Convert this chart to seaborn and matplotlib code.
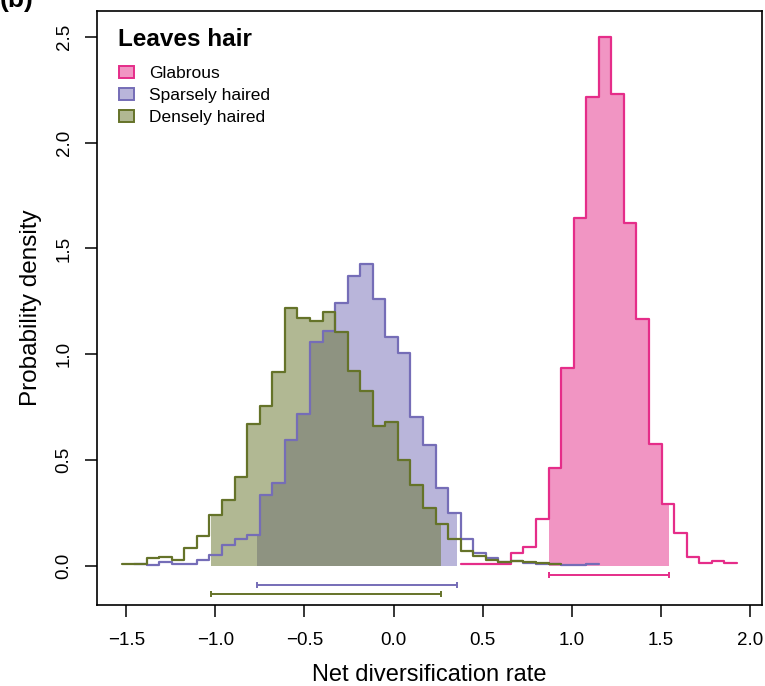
import numpy as np
import pandas as pd
import matplotlib
matplotlib.use("Agg")
import matplotlib.pyplot as plt
import seaborn as sns
from matplotlib.patches import Patch

# ---------------- data ----------------
# common histogram break points (49 bins)
edges = np.linspace(-1.527, 1.928, 50)

groups = ["Glabrous", "Sparsely haired", "Densely haired"]
line_colors = ["#E52D89", "#756DB7", "#657329"]

# densities per bin (first non-empty bin index + values)
glabrous_start = 27
glabrous = [0.008, 0.006, 0.010, 0.008, 0.060, 0.090, 0.219, 0.464, 0.933,
            1.643, 2.216, 2.500, 2.230, 1.620, 1.165, 0.574, 0.292, 0.154,
            0.039, 0.014, 0.024, 0.014]

sparse_start = 1
sparse = [0.010, 0.004, 0.018, 0.008, 0.008, 0.026, 0.049, 0.099, 0.127,
          0.146, 0.334, 0.392, 0.593, 0.718, 1.060, 1.111, 1.241, 1.369,
          1.427, 1.260, 1.079, 1.006, 0.703, 0.569, 0.366, 0.248, 0.125,
          0.062, 0.038, 0.016, 0.024, 0.014, 0.010, 0.008, 0.005, 0.005,
          0.007]

dense_start = 0
dense = [0.006, 0.008, 0.037, 0.042, 0.029, 0.084, 0.141, 0.238, 0.311,
         0.420, 0.668, 0.753, 0.917, 1.217, 1.173, 1.158, 1.200, 1.107,
         0.919, 0.828, 0.660, 0.679, 0.499, 0.380, 0.271, 0.195, 0.126,
         0.069, 0.045, 0.028, 0.016, 0.022, 0.016, 0.012, 0.010]

# 95% HPD intervals
hpd_low = [0.875, -0.767, -1.025]
hpd_high = [1.549, 0.356, 0.269]
bar_y = [-0.044, -0.091, -0.135]

starts = [glabrous_start, sparse_start, dense_start]
values = [glabrous, sparse, dense]

xticks = [-1.5, -1.0, -0.5, 0.0, 0.5, 1.0, 1.5, 2.0]
yticks = [0.0, 0.5, 1.0, 1.5, 2.0, 2.5]

# ---------------- plot ----------------
sns.set_theme(style="ticks")
plt.rcParams['font.family'] = ['Liberation Sans', 'DejaVu Sans']
plt.rcParams['axes.unicode_minus'] = True
plt.rcParams['text.color'] = 'black'
plt.rcParams['axes.labelcolor'] = 'black'
plt.rcParams['xtick.color'] = 'black'
plt.rcParams['ytick.color'] = 'black'

fig = plt.figure(figsize=(7.65, 6.86), dpi=100)
W, H = 765, 686
ax_left, ax_right, ax_top, ax_bottom = 97, 761.5, 11, 605
ax = fig.add_axes([ax_left / W, (H - ax_bottom) / H,
                   (ax_right - ax_left) / W, (ax_bottom - ax_top) / H])

for i, (name, col) in enumerate(zip(groups, line_colors)):
    s = starts[i]
    vals = np.array(values[i])
    e = edges[s:s + len(vals) + 1]
    lo, hi = hpd_low[i], hpd_high[i]
    xs = np.concatenate([[lo], e[(e > lo) & (e < hi)], [hi]])
    idx = np.clip(np.searchsorted(e, xs, side="right") - 1, 0, len(vals) - 1)
    ys = vals[idx]
    ax.fill_between(xs, 0, ys, step="post", color=col, alpha=0.5,
                    linewidth=0, zorder=1)

for i, (name, col) in enumerate(zip(groups, line_colors)):
    s = starts[i]
    vals = np.array(values[i])
    e = edges[s:s + len(vals) + 1]
    centers = (e[:-1] + e[1:]) / 2
    df = pd.DataFrame({"x": centers, "w": vals})
    sns.histplot(data=df, x="x", weights="w", bins=list(e), stat="count",
                 element="step", fill=False, color=col, linewidth=1.6,
                 ax=ax, zorder=3)
    mid = (hpd_low[i] + hpd_high[i]) / 2
    ax.errorbar([mid], [bar_y[i]],
                xerr=[[mid - hpd_low[i]], [hpd_high[i] - mid]],
                fmt="none", ecolor=col, elinewidth=1.4, capsize=2.3,
                capthick=1.4, zorder=3)

ax.set_xlim(-1.665, 2.066)
ax.set_ylim(-0.186, 2.623)
ax.set_xticks(xticks)
ax.set_xticklabels([f"{t:.1f}".replace("-", "\u2212") for t in xticks])
ax.set_yticks(yticks)
ax.set_yticklabels([f"{t:.1f}" for t in yticks], rotation=90, va="center")
ax.tick_params(axis="both", direction="out", length=8.5, width=1.1,
               color="black", labelsize=13.5, labelcolor="black")
ax.tick_params(axis="x", pad=11)
ax.tick_params(axis="y", pad=9)
for sp in ax.spines.values():
    sp.set_visible(True)
    sp.set_color("black")
    sp.set_linewidth(1.2)
ax.grid(False)
ax.set_facecolor("white")

ax.set_xlabel("Net diversification rate", fontsize=17, color="black",
              labelpad=11)
ax.set_ylabel("Probability density", fontsize=17.5, color="black",
              labelpad=10)

ax_w = ax_right - ax_left
ax_h = ax_bottom - ax_top
ax.text((118 - ax_left) / ax_w, (ax_bottom - 40) / ax_h, "Leaves hair",
        transform=ax.transAxes, fontsize=17.5, fontweight="bold",
        color="black", ha="left", va="center")

handles = [Patch(facecolor=matplotlib.colors.to_rgba(c, 0.5), edgecolor=c,
                 linewidth=1.4) for c in line_colors]
leg = ax.legend(handles, groups, loc="upper left",
                bbox_to_anchor=((119 - ax_left) / ax_w,
                                (ax_bottom - 65.5) / ax_h),
                frameon=False, fontsize=12.5, borderpad=0, borderaxespad=0,
                handlelength=0.85, handleheight=0.7, handletextpad=0.9,
                labelspacing=0.41)
for t in leg.get_texts():
    t.set_color("black")

fig.text(0.0, 1.0, "(b)", fontsize=19, fontweight="bold", va="center",
         ha="left", color="black")

fig.savefig("out.png", dpi=100, facecolor="white")
